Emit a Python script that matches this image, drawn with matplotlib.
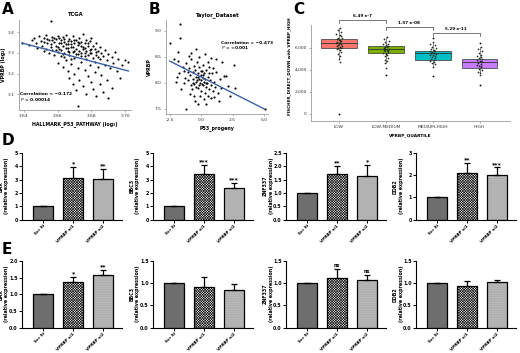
import matplotlib
matplotlib.use('Agg')
import matplotlib.pyplot as plt
from matplotlib.ticker import StrMethodFormatter, FormatStrFormatter

W, H = 520, 353
plt.rcParams['hatch.linewidth'] = 0.45

# ---- panel A: TCGA scatter ----
A_x = [3.639, 3.643, 3.645, 3.646, 3.647, 3.648, 3.649, 3.650, 3.651, 3.652, 3.652, 3.653, 3.654, 3.655, 3.655,
       3.656, 3.656, 3.657, 3.657, 3.658, 3.658, 3.659, 3.659, 3.660, 3.660, 3.660, 3.661, 3.661, 3.662, 3.662,
       3.663, 3.663, 3.663, 3.664, 3.664, 3.665, 3.665, 3.665, 3.666, 3.666, 3.666, 3.667, 3.667, 3.667, 3.668,
       3.668, 3.668, 3.669, 3.669, 3.669, 3.670, 3.670, 3.670, 3.671, 3.671, 3.671, 3.672, 3.672, 3.672, 3.672,
       3.673, 3.673, 3.673, 3.674, 3.674, 3.674, 3.675, 3.675, 3.675, 3.676, 3.676, 3.676, 3.677, 3.677, 3.677,
       3.678, 3.678, 3.678, 3.679, 3.679, 3.679, 3.680, 3.680, 3.680, 3.681, 3.681, 3.681, 3.682, 3.682, 3.682,
       3.683, 3.683, 3.683, 3.684, 3.684, 3.685, 3.685, 3.685, 3.686, 3.686, 3.687, 3.687, 3.688, 3.688, 3.689,
       3.689, 3.690, 3.690, 3.691, 3.692, 3.692, 3.693, 3.694, 3.695, 3.696, 3.697, 3.698, 3.700, 3.702,
       3.652, 3.654, 3.656, 3.658, 3.660, 3.662, 3.664, 3.666, 3.668, 3.670, 3.672, 3.674, 3.676, 3.678, 3.662,
       3.666, 3.670, 3.674, 3.657, 3.661, 3.665, 3.669, 3.673, 3.677, 3.664, 3.668, 3.676, 3.680, 3.684, 3.653,
       3.659, 3.663, 3.667, 3.671, 3.675, 3.679, 3.683]
A_y = [3.347, 3.338, 3.360, 3.372, 3.345, 3.325, 3.380, 3.355, 3.335, 3.372, 3.310, 3.385, 3.345, 3.362, 3.298,
       3.453, 3.330, 3.378, 3.315, 3.350, 3.290, 3.368, 3.335, 3.382, 3.305, 3.250, 3.345, 3.320, 3.360, 3.282,
       3.375, 3.335, 3.230, 3.350, 3.300, 3.388, 3.325, 3.265, 3.342, 3.310, 3.210, 3.365, 3.290, 3.180, 3.355,
       3.328, 3.245, 3.380, 3.305, 3.150, 3.345, 3.275, 3.200, 3.360, 3.320, 3.120, 3.338, 3.295, 3.041, 3.225,
       3.370, 3.310, 3.170, 3.350, 3.285, 3.255, 3.390, 3.330, 3.140, 3.345, 3.300, 3.215, 3.362, 3.270, 3.100,
       3.335, 3.290, 3.190, 3.355, 3.315, 3.240, 3.370, 3.300, 3.160, 3.335, 3.275, 3.125, 3.320, 3.255, 3.205,
       3.345, 3.290, 3.090, 3.310, 3.230, 3.330, 3.270, 3.150, 3.300, 3.195, 3.285, 3.110, 3.315, 3.240, 3.265,
       3.170, 3.295, 3.080, 3.225, 3.280, 3.130, 3.250, 3.305, 3.210, 3.270, 3.180, 3.240, 3.265, 3.256,
       3.350, 3.365, 3.340, 3.372, 3.330, 3.345, 3.365, 3.355, 3.340, 3.360, 3.350, 3.335, 3.325, 3.345, 3.312,
       3.322, 3.310, 3.300, 3.360, 3.370, 3.340, 3.330, 3.345, 3.310, 3.278, 3.268, 3.285, 3.320, 3.280, 3.320,
       3.315, 3.295, 3.305, 3.295, 3.318, 3.300, 3.305]
A_fit_x = [3.639, 3.702]
A_fit_y = [3.347, 3.212]

# ---- panel B: Taylor dataset scatter ----
B_x = [-2.53, -1.72, -1.67, -1.24, 5.05, 2.63, 1.61, -0.46,
       -2.2, -1.9, -1.8, -1.95, -2.05, -1.5, -1.4, -1.3, -1.2, -1.1, -1.0, -0.9, -0.85, -0.8, -0.7, -0.65,
       -0.6, -0.55, -0.5, -0.45, -0.4, -0.38, -0.3, -0.25, -0.2, -0.15, -0.1, -0.05, 0.0, 0.0, 0.05, 0.1,
       0.12, 0.15, 0.2, 0.25, 0.28, 0.3, 0.35, 0.4, 0.45, 0.5, 0.55, 0.6, 0.65, 0.7, 0.75, 0.8, 0.85, 0.9,
       1.0, 1.05, 1.1, 1.2, 1.3, 1.4, 1.5, 1.8, 2.0, 2.1, 2.3, 2.7,
       -0.3, 0.2, -0.6, -0.9, -1.6, -0.5, 0.4, -0.2, 0.3, -0.8, -1.0, 0.8, 1.2, -1.9,
       -0.35, -0.15, 0.05, -0.25, 0.15, -0.45, -0.05, 0.35, -0.65, -0.75, 0.6, -1.1, 0.95, -1.35, 1.6,
       -0.1, 0.5]
B_y = [8.76, 9.13, 8.87, 7.49, 7.50, 8.35, 8.40, 8.66,
       8.45, 8.42, 8.18, 8.12, 8.02, 8.30, 8.22, 8.10, 8.38, 8.05, 8.28, 8.15, 7.95, 8.45, 8.20, 8.08,
       8.32, 7.98, 8.25, 8.12, 8.02, 8.40, 8.18, 7.90, 8.08, 8.30, 8.00, 8.15, 8.05, 7.85, 8.22, 8.10,
       7.95, 8.35, 8.02, 8.18, 7.80, 8.08, 7.92, 8.25, 8.00, 7.75, 8.12, 7.88, 8.30, 8.05, 7.95, 7.70, 8.18, 7.85,
       7.72, 8.02, 7.92, 8.20, 7.80, 7.65, 8.08, 8.13, 8.13, 7.94, 7.75, 7.90,
       7.59, 7.68, 7.75, 7.78, 7.88, 7.65, 7.60, 8.50, 8.55, 8.58, 8.52, 8.48, 8.45, 8.60,
       8.05, 7.95, 7.98, 8.12, 8.15, 7.92, 8.22, 8.00, 8.00, 7.88, 8.18, 8.20, 8.28, 8.00, 7.90,
       7.75, 8.40]
B_fit_x = [-2.53, 5.0]
B_fit_y = [8.42, 7.50]

# ---- panel C: boxplots by VPRBP quartile ----
C_groups = ['LOW', 'LOW-MEDIUM', 'MEDIUM-HIGH', 'HIGH']
C_colors = ['#F8766D', '#7CAE00', '#00BFC4', '#C77CFF']
C_q1 = [6000, 5550, 4910, 4210]
C_med = [6450, 5880, 5570, 4750]
C_q3 = [6820, 6180, 5730, 5000]
C_lo = [5000, 4600, 4300, 3700]
C_hi = [7800, 7000, 6570, 6120]
C_fliers = [[0], [3550], [6880, 3450], [6420, 2640]]
C_pts = [
    [7800, 7600, 7450, 7300, 7150, 7050, 6950, 6880, 6800, 6740, 6680, 6620, 6560, 6500, 6450, 6400,
     6340, 6280, 6220, 6160, 6100, 6040, 5980, 5900, 5800, 5650, 5450, 5250, 5000, 4700],
    [7000, 6800, 6650, 6500, 6400, 6320, 6250, 6180, 6120, 6060, 6000, 5950, 5900, 5850, 5800, 5740,
     5680, 5620, 5560, 5480, 5380, 5250, 5100, 4950, 4800, 4600, 4200],
    [6570, 6400, 6250, 6100, 6000, 5900, 5820, 5760, 5700, 5640, 5580, 5520, 5460, 5400, 5330, 5260,
     5180, 5100, 5020, 4950, 4860, 4760, 4650, 4500, 4300],
    [6120, 5900, 5700, 5550, 5400, 5280, 5180, 5080, 5000, 4930, 4860, 4800, 4740, 4680, 4620, 4550,
     4480, 4400, 4320, 4230, 4120, 4000, 3850, 3700, 3545]]
C_jit = [
    [0.02, -0.03, 0.05, -0.06, 0.01, 0.04, -0.02, 0.06, -0.05, 0.03, -0.01, 0.05, -0.04, 0.02, -0.06, 0.04,
     0.0, -0.03, 0.06, -0.05, 0.03, -0.02, 0.05, -0.04, 0.01, 0.04, -0.03, 0.02, -0.01, 0.03],
    [0.03, -0.04, 0.06, -0.02, 0.04, -0.06, 0.01, 0.05, -0.03, 0.02, -0.05, 0.06, -0.01, 0.03, -0.04, 0.05,
     -0.02, 0.04, -0.06, 0.01, 0.03, -0.03, 0.05, -0.01, 0.02, -0.02, 0.0],
    [0.01, -0.05, 0.04, -0.02, 0.06, -0.04, 0.02, -0.06, 0.05, -0.01, 0.03, -0.03, 0.06, -0.05, 0.01, 0.04,
     -0.02, 0.05, -0.04, 0.02, -0.06, 0.03, -0.01, 0.04, 0.0],
    [0.02, -0.04, 0.05, -0.01, 0.03, -0.06, 0.04, -0.02, 0.06, -0.05, 0.01, 0.03, -0.03, 0.05, -0.04, 0.02,
     -0.06, 0.04, -0.01, 0.03, -0.02, 0.05, -0.03, 0.01, 0.0]]
C_pvals = ['6.49 e-7', '1.57 e-08', '5.29 e-11']
C_brk_y = [8545, 7909, 7364]

# ---- panels D/E: qPCR bar charts ----
genes = ['BAX', 'BBC3', 'ZNF337', 'DDB2']
groups = ['Scr Si', 'VPRBP si1', 'VPRBP si2']
D_means = [[1.0, 3.10, 3.02], [1.0, 3.45, 2.35], [1.0, 1.72, 1.65], [1.0, 2.08, 2.03]]
D_err = [[0.02, 0.85, 0.78], [0.0, 0.65, 0.40], [0.0, 0.28, 0.40], [0.0, 0.47, 0.32]]
D_stars = [['', '*', '**'], ['', '***', '***'], ['', '**', '*'], ['', '**', '***']]
D_ymax = [5, 5, 2.5, 3]
D_step = [1, 1, 0.5, 1]
E_means = [[1.0, 1.36, 1.57], [1.0, 0.91, 0.84], [1.0, 1.12, 1.07], [1.0, 0.94, 1.03]]
E_err = [[0.0, 0.17, 0.15], [0.0, 0.22, 0.14], [0.0, 0.21, 0.12], [0.0, 0.12, 0.05]]
E_stars = [['', '*', '**'], ['', '', ''], ['', 'ns', 'ns'], ['', '', '']]
E_ymax = [2.0, 1.5, 1.5, 1.5]
E_step = [0.5, 0.5, 0.5, 0.5]


def px_axes(fig, left, top, right, bottom):
    return fig.add_axes([left / W, 1 - bottom / H, (right - left) / W, (bottom - top) / H])


def gg_axes(ax):
    for s in ['top', 'right']:
        ax.spines[s].set_visible(False)
    for s in ['left', 'bottom']:
        ax.spines[s].set_color('#9a9a9a')
        ax.spines[s].set_linewidth(0.6)
    ax.tick_params(labelsize=3.2, length=1.5, width=0.4, color='#777777', pad=1.5, labelcolor='#333333')


fig = plt.figure(figsize=(W / 100, H / 100), dpi=100)
fig.patch.set_facecolor('white')

# panel A
ax = px_axes(fig, 19, 20, 131, 110)
ax.scatter(A_x, A_y, s=2.4, c='black', linewidths=0)
ax.plot(A_fit_x, A_fit_y, color='#3c62a5', lw=1.0)
ax.set_xlim(3.6372, 3.7035)
ax.set_ylim(3.024, 3.458)
ax.set_xticks([3.64, 3.66, 3.68, 3.70])
ax.set_yticks([3.1, 3.2, 3.3, 3.4])
ax.xaxis.set_major_formatter(FormatStrFormatter('%.2f'))
gg_axes(ax)
ax.set_title('TCGA', fontsize=3.8, fontweight='bold', pad=3)
ax.set_xlabel('HALLMARK_P53_PATHWAY (log\u2082)', fontsize=3.4, fontweight='bold', labelpad=2)
ax.set_ylabel('VPRBP (log\u2082)', fontsize=3.4, fontweight='bold')
ax.yaxis.set_label_coords(-0.115, 0.5)
ax.text(3.638, 3.095, 'Correlation = \u22120.172', fontsize=3.2, fontweight='bold')
ax.text(3.638, 3.068, '$P$ = 0.00014', fontsize=3.2, fontweight='bold')

# panel B
ax = px_axes(fig, 166, 20, 268, 114)
ax.scatter(B_x, B_y, s=2.4, c='black', linewidths=0)
ax.plot(B_fit_x, B_fit_y, color='#3c62a5', lw=1.0)
ax.set_xlim(-2.82, 5.32)
ax.set_ylim(7.40, 9.21)
ax.set_xticks([-2.5, 0.0, 2.5, 5.0])
ax.set_yticks([7.5, 8.0, 8.5, 9.0])
ax.xaxis.set_major_formatter(FormatStrFormatter('%.1f'))
ax.yaxis.set_major_formatter(FormatStrFormatter('%.1f'))
gg_axes(ax)
ax.set_title('Taylor_Dataset', fontsize=3.8, fontweight='bold', pad=3)
ax.set_xlabel('P53_progeny', fontsize=3.4, fontweight='bold', labelpad=2)
ax.set_ylabel('VPRBP', fontsize=3.4, fontweight='bold', labelpad=2)
ax.text(1.6, 8.75, 'Correlation = \u22120.473', fontsize=3.2, fontweight='bold')
ax.text(1.6, 8.645, '$P$ = <0.001', fontsize=3.2, fontweight='bold')

# panel C
ax = px_axes(fig, 311, 12, 510, 121)
stats = []
for i in range(4):
    stats.append(dict(med=C_med[i], q1=C_q1[i], q3=C_q3[i], whislo=C_lo[i], whishi=C_hi[i],
                      fliers=C_fliers[i], label=C_groups[i]))
bp = ax.bxp(stats, positions=range(4), widths=0.76, patch_artist=True,
            boxprops=dict(linewidth=0.5, edgecolor='#333333'),
            medianprops=dict(color='#333333', linewidth=0.6),
            whiskerprops=dict(linewidth=0.4, color='#333333'),
            capprops=dict(linewidth=0),
            flierprops=dict(marker='o', markersize=1.3, markerfacecolor='black', markeredgewidth=0))
for patch, col in zip(bp['boxes'], C_colors):
    patch.set_facecolor(col)
for i in range(4):
    ax.scatter([i + j for j in C_jit[i]], C_pts[i], s=1.5, c='#1d2b1d', linewidths=0, zorder=3)
ax.set_xlim(-0.6, 3.65)
ax.set_ylim(-640, 9270)
ax.set_yticks([0, 2000, 4000, 6000])
ax.yaxis.set_major_formatter(StrMethodFormatter('{x:,.0f}'))
gg_axes(ax)
ax.spines['left'].set_bounds(-640, 8100)
ax.set_xlabel('VPRBP_QUARTILE', fontsize=3.2, fontweight='bold', labelpad=3)
ax.set_ylabel('FISCHER_DIRECT_DOWN with VPRBP_HIGH', fontsize=3.0, fontweight='bold', labelpad=2)
for k in range(3):
    yb = C_brk_y[k]
    ax.plot([k, k, k + 1, k + 1], [yb - 250, yb, yb, yb - 250], color='#444444', lw=0.5, clip_on=False)
    ax.text(k + 0.5, yb + 180, C_pvals[k], fontsize=3.0, fontweight='bold', ha='center', va='bottom')

# panels D and E
fills = ['#6e6e6e', 'white', 'white']
hatches = [None, 'x' * 13, '-' * 24]
hcols = ['black', '#111111', '#ababab']
lefts = [22, 153, 286, 416]
rows = [(153, 219.5, D_means, D_err, D_stars, D_ymax, D_step),
        (261, 327.5, E_means, E_err, E_stars, E_ymax, E_step)]
for top, bot, means, errs, stars, ymaxs, steps in rows:
    for g in range(4):
        ax = px_axes(fig, lefts[g], top, lefts[g] + 100, bot)
        xs = range(3)
        for i in xs:
            ax.bar(i, means[g][i], width=0.67, color=fills[i], hatch=hatches[i],
                   edgecolor=hcols[i], linewidth=0)
            ax.bar(i, means[g][i], width=0.67, fill=False, edgecolor='black', linewidth=0.9)
            ax.errorbar(i, means[g][i], yerr=[[0], [errs[g][i]]], color='black',
                        elinewidth=0.9, capsize=2.2, capthick=0.9)
            if stars[g][i]:
                ax.text(i, means[g][i] + errs[g][i] + ymaxs[g] * 0.01, stars[g][i],
                        ha='center', va='bottom', fontsize=4.5 if stars[g][i] != 'ns' else 3.6,
                        fontweight='bold')
        ax.set_xlim(-0.7, 2.63)
        ax.set_ylim(0, ymaxs[g])
        nt = int(round(ymaxs[g] / steps[g]))
        ax.set_yticks([steps[g] * k for k in range(nt + 1)])
        if steps[g] < 1:
            ax.yaxis.set_major_formatter(FormatStrFormatter('%.1f'))
        else:
            ax.yaxis.set_major_formatter(FormatStrFormatter('%d'))
        ax.set_xticks(list(xs))
        ax.set_xticklabels(groups, rotation=45, ha='right', rotation_mode='anchor')
        for s in ['top', 'right']:
            ax.spines[s].set_visible(False)
        for s in ['left', 'bottom']:
            ax.spines[s].set_linewidth(0.8)
        ax.tick_params(axis='y', labelsize=3.4, length=2, width=0.7, pad=1.0)
        ax.tick_params(axis='x', labelsize=3.0, length=2, width=0.7, pad=1.0)
        for lab in ax.get_xticklabels() + ax.get_yticklabels():
            lab.set_fontweight('bold')
        ax.set_ylabel(genes[g] + '\n(relative expression)', fontsize=3.4, fontweight='bold',
                      linespacing=1.1)
        ax.yaxis.set_label_coords(-0.125, 0.5)

# panel letters
for letter, x, y in [('A', 2, 2), ('B', 149, 2), ('C', 293, 2), ('D', 2, 133), ('E', 2, 242)]:
    fig.text(x / W, 1 - y / H, letter, fontsize=11, fontweight='bold', ha='left', va='top')

fig.savefig('out.png', dpi=100)
